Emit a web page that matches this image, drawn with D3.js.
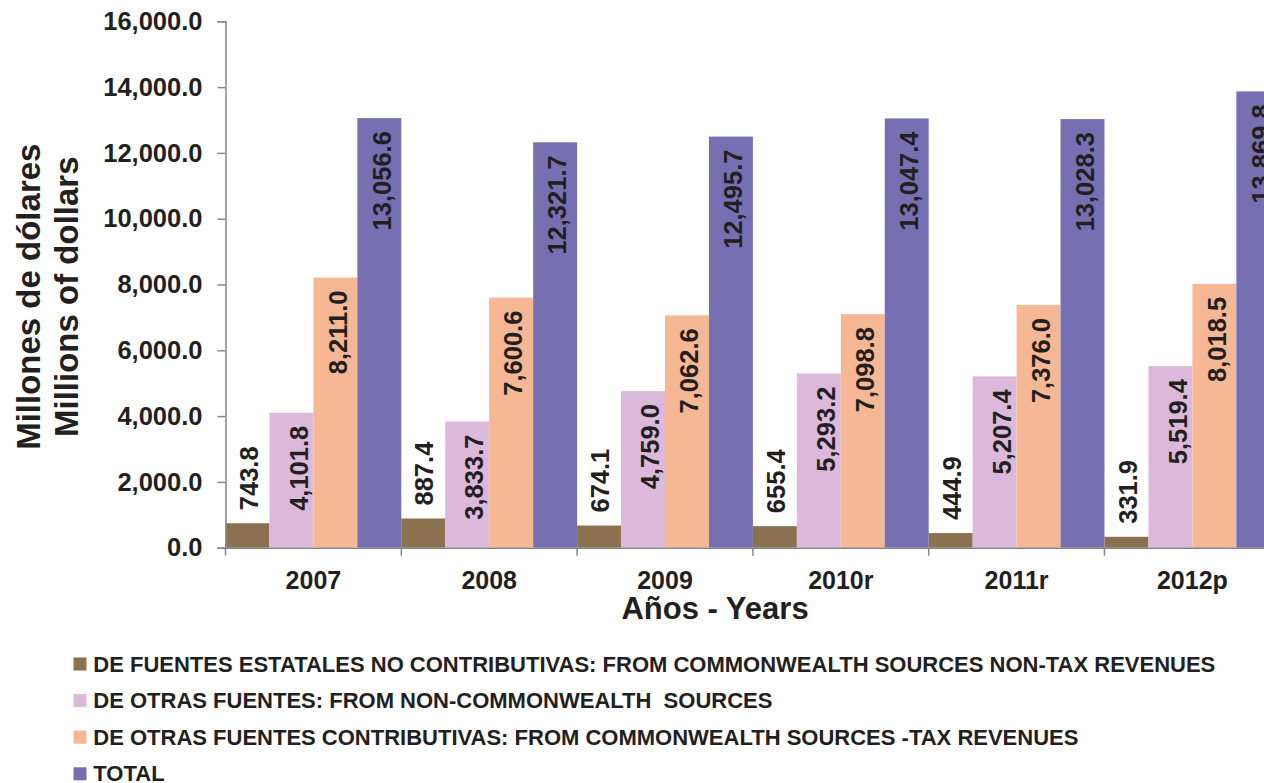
<!DOCTYPE html>
<html>
<head>
<meta charset="utf-8">
<script src="https://cdn.jsdelivr.net/npm/d3@7"></script>
<style>
  body { margin: 0; background: #fff; }
  svg { display: block; font-family: "Liberation Sans", Arial, sans-serif; font-weight: bold; }
</style>
</head>
<body>
<div id="chart"></div>
<script>
const years = ["2007", "2008", "2009", "2010r", "2011r", "2012p"];
const nonTax = [743.8, 887.4, 674.1, 655.4, 444.9, 331.9];
const otherSources = [4101.8, 3833.7, 4759.0, 5293.2, 5207.4, 5519.4];
const taxRevenues = [8211.0, 7600.6, 7062.6, 7098.8, 7376.0, 8018.5];
const total = [13056.6, 12321.7, 12495.7, 13047.4, 13028.3, 13869.8];
const yTicks = [0, 2000, 4000, 6000, 8000, 10000, 12000, 14000, 16000];
const seriesNames = [
  "DE FUENTES ESTATALES NO CONTRIBUTIVAS: FROM COMMONWEALTH SOURCES NON-TAX REVENUES",
  "DE OTRAS FUENTES: FROM NON-COMMONWEALTH  SOURCES",
  "DE OTRAS FUENTES CONTRIBUTIVAS: FROM COMMONWEALTH SOURCES -TAX REVENUES",
  "TOTAL"
];

const colors = ["#8b714f", "#dcb9da", "#f6b794", "#7670b3"];
const labelDx = [1, 7, 2, 2];
const series = [nonTax, otherSources, taxRevenues, total];

const width = 1264, height = 783;
const x0 = 225.5, bandW = 175.8;

const svg = d3.select("#chart").append("svg")
  .attr("width", width)
  .attr("height", height);

const x = d3.scaleBand()
  .domain(years)
  .range([x0, x0 + bandW * years.length])
  .padding(0);

const xSub = d3.scaleBand()
  .domain(d3.range(series.length))
  .range([0, x.bandwidth()])
  .padding(0);

const y = d3.scaleLinear().domain([0, 16000]).range([547.7, 21.3]);

const rows = years.map((yr, i) => series.map((s, k) => ({ year: yr, k, value: s[i] })));

// bars
const groups = svg.append("g").attr("id", "bars")
  .selectAll("g").data(rows).enter().append("g")
  .attr("transform", (d) => `translate(${x(d[0].year)},0)`);

groups.selectAll("rect").data((d) => d).enter().append("rect")
  .attr("x", (d) => xSub(d.k))
  .attr("y", (d) => y(d.value))
  .attr("width", xSub.bandwidth())
  .attr("height", (d) => y(0) - y(d.value))
  .attr("fill", (d) => colors[d.k]);

// value labels (rotated)
groups.selectAll("text").data((d) => d).enter().append("text")
  .attr("transform", (d) => {
    const cx = xSub(d.k) + xSub.bandwidth() / 2 + labelDx[d.k];
    const py = d.value < 1000 ? y(d.value) - 13 : y(d.value) + 13;
    return `translate(${cx},${py}) rotate(-90)`;
  })
  .attr("dy", "0.36em")
  .attr("text-anchor", (d) => (d.value < 1000 ? "start" : "end"))
  .attr("font-size", "25.5px")
  .attr("fill", "#231f20")
  .text((d) => d3.format(",.1f")(d.value));

// y axis
const yAxis = d3.axisLeft(y)
  .tickValues(yTicks)
  .tickFormat(d3.format(",.1f"))
  .tickSize(8)
  .tickPadding(15);

const yg = svg.append("g").attr("id", "y-axis")
  .attr("transform", `translate(${x0},0)`)
  .call(yAxis);
yg.select(".domain").attr("stroke", "#868686").attr("stroke-width", 1.5);
yg.selectAll(".tick line").attr("stroke", "#868686").attr("stroke-width", 1.5);
yg.selectAll("text")
  .attr("font-size", "25.5px")
  .attr("font-family", "'Liberation Sans', Arial, sans-serif")
  .attr("font-weight", "bold")
  .attr("fill", "#231f20");

// x axis
const xAxis = d3.axisBottom(x).tickSize(0).tickPadding(23.5);
const xg = svg.append("g").attr("id", "x-axis")
  .attr("transform", `translate(0,${y(0)})`)
  .call(xAxis);
xg.select(".domain").attr("stroke", "#868686").attr("stroke-width", 1.5);
xg.selectAll("text")
  .attr("font-size", "25px")
  .attr("font-family", "'Liberation Sans', Arial, sans-serif")
  .attr("font-weight", "bold")
  .attr("fill", "#231f20");

xg.selectAll("line.sep")
  .data(years.map((yr) => x(yr)).concat([x(years[years.length - 1]) + x.bandwidth()]))
  .enter().append("line")
  .attr("class", "sep")
  .attr("x1", (d) => d).attr("x2", (d) => d)
  .attr("y1", 0).attr("y2", 8)
  .attr("stroke", "#868686").attr("stroke-width", 1.5);

// axis titles
svg.append("text")
  .attr("x", 715).attr("y", 619.3)
  .attr("text-anchor", "middle")
  .attr("font-size", "31px")
  .attr("fill", "#231f20")
  .text("Años - Years");

const yTitles = ["Millones de dólares", "Millions of dollars"];
svg.selectAll("text.ytitle").data(yTitles).enter().append("text")
  .attr("class", "ytitle")
  .attr("transform", (d, i) => `translate(${40 + i * 38},296.7) rotate(-90)`)
  .attr("text-anchor", "middle")
  .attr("font-size", "33px")
  .attr("fill", "#231f20")
  .text((d) => d);

// legend
const legend = svg.append("g").attr("id", "legend")
  .selectAll("g").data(seriesNames).enter().append("g")
  .attr("transform", (d, i) => `translate(73.5,${671.5 + i * 36.6})`);

legend.append("rect")
  .attr("x", 0).attr("y", -14)
  .attr("width", 13).attr("height", 13)
  .attr("fill", (d, i) => colors[i]);

legend.append("text")
  .attr("x", 19.8)
  .attr("font-size", "22px")
  .attr("fill", "#231f20")
  .style("white-space", "pre")
  .text((d) => d);
</script>
</body>
</html>
